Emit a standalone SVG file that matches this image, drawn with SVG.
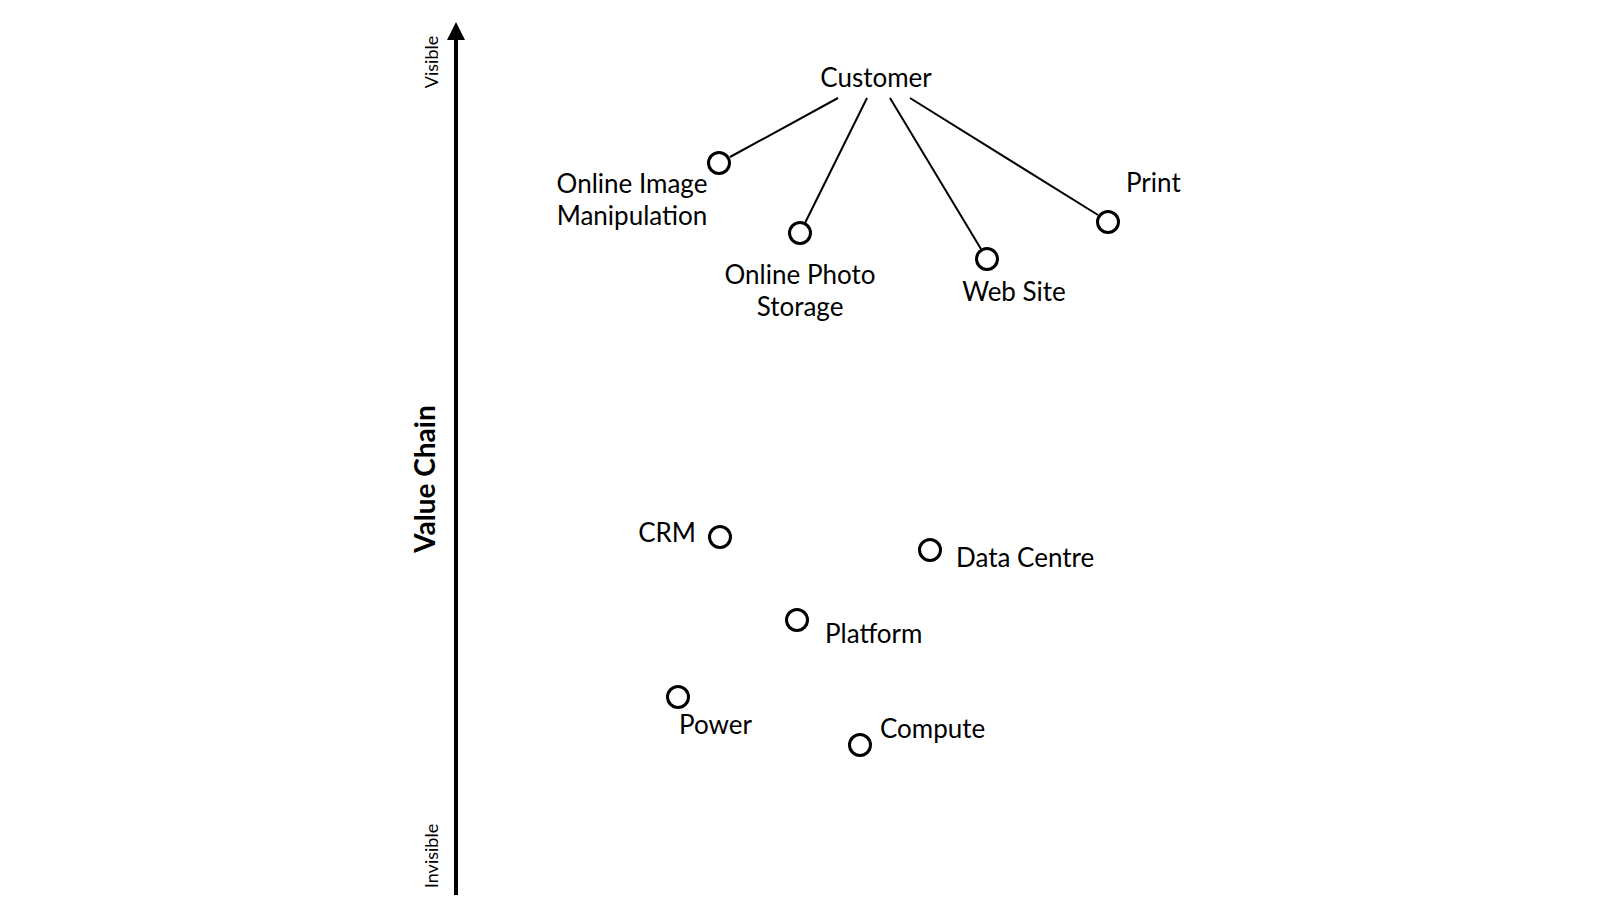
<svg xmlns="http://www.w3.org/2000/svg" width="1600" height="919" viewBox="0 0 1600 919">
<style>
text{font-family:Lato,"Noto Sans","Liberation Sans",sans-serif;fill:#000}
.lbl{font-size:26px}
.axis-lbl{font-size:18px}
.title{font-size:28px;font-weight:bold}
.node{fill:#fff;stroke:#000;stroke-width:3}
.conn{stroke:#000;stroke-width:2;fill:none}
.axis{stroke:#000;stroke-width:4;fill:none}
</style>
<defs>
<marker id="arrow" viewBox="0 0 18 18" markerWidth="18" markerHeight="18" refX="0" refY="9" orient="auto" markerUnits="userSpaceOnUse">
<path d="M0,0 L18,9 L0,18 z" fill="#000"/>
</marker>
</defs>
<rect width="1600" height="919" fill="#fff"/>
<g id="axis">
<line class="axis" x1="456" y1="895" x2="456" y2="40" marker-end="url(#arrow)"/>
<text class="axis-lbl" text-anchor="middle" transform="translate(438,62) rotate(-90)">Visible</text>
<text class="axis-lbl" text-anchor="middle" transform="translate(438,856) rotate(-90)">Invisible</text>
<text class="title" text-anchor="middle" transform="translate(435,479) rotate(-90)">Value Chain</text>
</g>
<g id="connectors">
<line class="conn" x1="838" y1="98" x2="730" y2="157"/>
<line class="conn" x1="867" y1="98" x2="805" y2="223"/>
<line class="conn" x1="890" y1="98" x2="981" y2="249"/>
<line class="conn" x1="910" y1="98" x2="1098" y2="215"/>
</g>
<g id="customer"><text class="lbl" x="876" y="87" text-anchor="middle">Customer</text></g>
<g id="online-image-manipulation">
<circle class="node" cx="719" cy="163" r="10.5"/>
<text class="lbl" x="632" y="193" text-anchor="middle">Online Image</text>
<text class="lbl" x="632" y="225" text-anchor="middle">Manipulation</text>
</g>
<g id="online-photo-storage">
<circle class="node" cx="800" cy="233" r="10.5"/>
<text class="lbl" x="800" y="284" text-anchor="middle">Online Photo</text>
<text class="lbl" x="800" y="316" text-anchor="middle">Storage</text>
</g>
<g id="web-site">
<circle class="node" cx="987" cy="259" r="10.5"/>
<text class="lbl" x="1014" y="301" text-anchor="middle">Web Site</text>
</g>
<g id="print">
<circle class="node" cx="1108" cy="222" r="10.5"/>
<text class="lbl" x="1126" y="192">Print</text>
</g>
<g id="crm">
<circle class="node" cx="720" cy="537" r="10.5"/>
<text class="lbl" x="696" y="542" text-anchor="end">CRM</text>
</g>
<g id="data-centre">
<circle class="node" cx="930" cy="550" r="10.5"/>
<text class="lbl" x="956" y="567">Data Centre</text>
</g>
<g id="platform">
<circle class="node" cx="797" cy="620" r="10.5"/>
<text class="lbl" x="825" y="643">Platform</text>
</g>
<g id="power">
<circle class="node" cx="678" cy="697" r="10.5"/>
<text class="lbl" x="679" y="734">Power</text>
</g>
<g id="compute">
<circle class="node" cx="860" cy="745" r="10.5"/>
<text class="lbl" x="880" y="738">Compute</text>
</g>
</svg>
